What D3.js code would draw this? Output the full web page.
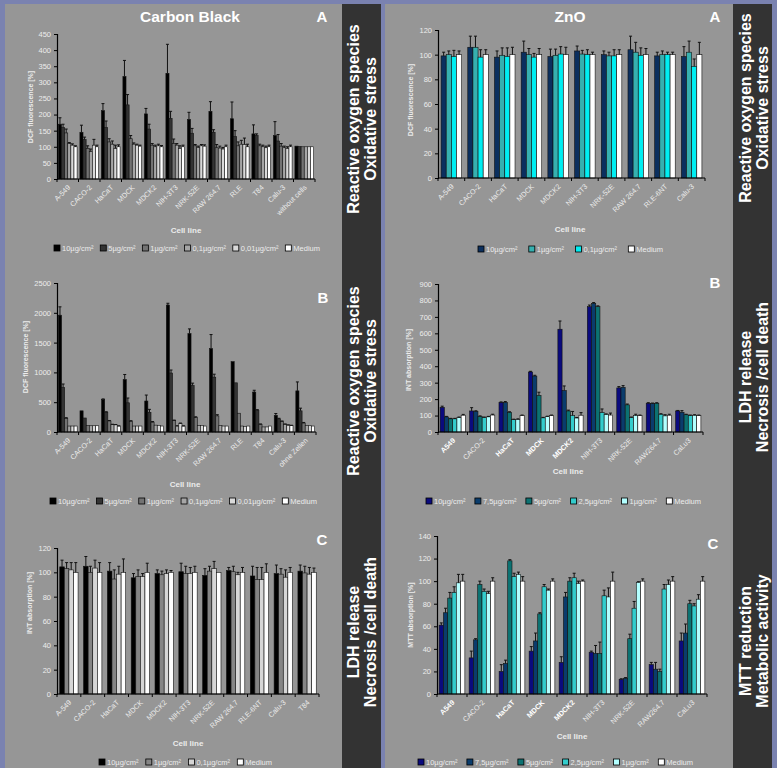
<!DOCTYPE html>
<html><head><meta charset="utf-8">
<script src="https://cdn.jsdelivr.net/npm/d3@7"></script>
<style>
body{margin:0;background:#7a82b0;}
svg{display:block;font-family:"Liberation Sans",Arial,sans-serif;}
</style>
</head><body>
<svg id="c" width="777" height="768"></svg>
<script>
// ---------- DATA ----------
const cbA_categories = ["A-549","CACO-2","HaCaT","MDCK","MDCK2","NIH-3T3","NRK-52E","RAW 264.7","RLE","T84","Calu-3","without cells"];
const cb_series6 = ["10µg/cm²","5µg/cm²","1µg/cm²","0,1µg/cm²","0,01µg/cm²","Medium"];
const cbA_values = [
  [170,160,143,110,105,100],[145,122,95,85,105,100],[212,160,115,108,95,100],[318,230,125,108,105,102],
  [202,155,105,100,103,100],[328,188,110,105,95,100],[185,142,103,98,103,102],[210,145,97,96,93,100],
  [187,132,103,108,107,100],[140,135,103,100,97,100],[135,118,102,97,95,100],[102,101,100,100,100,100]];
const cbA_errors = [
  [20,10,12,3,4,3],[22,8,8,8,18,5],[22,20,10,10,10,6],[50,32,10,4,3,3],
  [17,15,5,5,5,4],[90,22,14,5,8,5],[22,15,4,4,4,4],[30,8,10,6,5,5],
  [52,18,12,12,20,8],[28,5,5,5,5,5],[43,20,8,5,5,5],[0,0,0,0,0,0]];
const cbA_ticks = [0,50,100,150,200,250,300,350,400,450];

const cbB_categories = ["A-549","CACO-2","HaCaT","MDCK","MDCK2","NIH-3T3","NRK-52E","RAW 264.7","RLE","T84","Calu-3","ohne Zellen"];
const cbB_values = [
  [1960,750,230,100,100,100],[355,235,110,105,105,105],[545,330,185,125,120,100],[880,490,180,100,100,100],
  [520,330,165,115,110,100],[2130,990,190,100,140,100],[1650,780,240,110,110,100],[1400,920,270,110,100,100],
  [1180,825,315,100,95,100],[670,360,130,85,85,100],[280,220,175,130,115,110],[690,355,150,110,105,100]];
const cbB_errors = [
  [140,55,10,0,0,0],[0,0,0,0,0,0],[10,10,8,5,5,3],[85,80,10,0,0,0],
  [100,50,10,0,0,0],[30,50,10,5,10,3],[80,40,15,0,0,0],[235,50,20,0,0,0],
  [0,0,0,0,0,0],[30,15,5,0,0,0],[30,10,10,5,5,3],[150,45,10,0,0,0]];
const cbB_ticks = [0,500,1000,1500,2000,2500];

const cbC_categories = ["A-549","CACO-2","HaCaT","MDCK","MDCK2","NIH-3T3","NRK-52E","RAW 264.7","RLE-6NT","Calu-3","T84"];
const cbC_series = ["10µg/cm²","1µg/cm²","0,1µg/cm²","Medium"];
const cbC_values = [
  [104.5,103,102,100],[105,100,103.5,100],[101,94.5,98.5,100],[95.5,96.5,96.5,100],
  [99,98,99,100],[100.5,99,99,100],[97.5,101,103,100],[101.5,100.5,98,100],
  [97,94,94,100],[99,98.5,96,100],[101,99.5,98.5,100]];
const cbC_errors = [
  [5.5,5,6,8],[8,5,6.5,8],[7,7.5,6.5,11],[3.5,5.5,2.5,7.5],
  [3,3,3,1.5],[7,6,5,5],[5.5,4,6,0],[2.5,4.5,2,4],
  [8,10,10,7],[7,4.5,6,4],[5,5.5,5.5,3.5]];
const cbC_ticks = [0,20,40,60,80,100,120];

const znA_categories = ["A-549","CACO-2","HaCaT","MDCK","MDCK2","NIH-3T3","NRK-52E","RAW 264.7","RLE-6NT","Calu-3"];
const znA_series = ["10µg/cm²","1µg/cm²","0,1µg/cm²","Medium"];
const znA_values = [
  [99,100,98.5,100],[106,106,98,100],[98,99.5,98.5,100],[102,100,98,100],[98.5,99.5,100.5,100],
  [103,100.5,100,100],[100,99,99,100],[104,102,99.5,100],[99,100,100,100],[98.5,102,90.5,100]];
const znA_errors = [
  [3,3,5,3],[9,9,6,4],[5,6,7,6],[9,5,3,5],[6,5,6,6],
  [4,3,4,2],[3,3,5,4],[11,8,6,5],[3,3,2,2],[8,9,6,10]];
const znA_ticks = [0,20,40,60,80,100,120];

const zn_categories = ["A549","CACO-2","HaCaT","MDCK","MDCK2","NIH-3T3","NRK-52E","RAW264.7","CaLu3"];
const zn_boldCategories = ["A549","HaCaT","MDCK","MDCK2"];
const zn_series6 = ["10µg/cm²","7,5µg/cm²","5µg/cm²","2,5µg/cm²","1µg/cm²","Medium"];
const znB_values = [
  [150,92,80,80,88,102],[128,126,95,88,92,103],[180,180,120,75,77,100],[365,340,222,86,93,100],
  [625,252,128,100,85,102],[762,782,762,118,107,103],[268,272,165,88,100,100],[175,173,175,108,98,102],
  [128,120,105,100,102,100]];
const znB_errors = [
  [7,3,3,3,3,5],[20,3,3,3,3,5],[3,5,3,3,3,3],[4,5,20,3,3,3],
  [50,28,5,25,3,16],[10,5,5,22,3,12],[8,10,5,3,8,3],[3,3,3,3,7,6],
  [3,10,3,3,3,3]];
const znB_ticks = [0,100,200,300,400,500,600,700,800,900];

const znC_values = [
  [61,72,85,90,98.5,100],[32,48,97,91,89,100],[20,27,118,104,106,100],[38,47,71,95,92,100],
  [28,86,100,103,98,100],[37,36,36,87,86,100],[13,14,49,76,99,100],[26,22,20,93,97,100],
  [47,54,80,78,84,100]];
const znC_errors = [
  [2,4,5,5,7.5,6],[6,1,3,2,2,3],[6,3,1,3,2,4],[4,7,1,2,1,2],
  [5,4,3,4,2,1],[1,7,10,5,8,8],[0.5,0.5,4,6,0.5,2],[2,6,2,4,4,4],
  [7,8,3,2,4,4]];
const znC_ticks = [0,20,40,60,80,100,120,140];

const cb_colors6 = ["#000000","#333333","#737373","#a6a6a6","#d9d9d9","#ffffff"];
const cbC_colors = ["#000000","#858585","#d6d6d6","#ffffff"];
const znA_colors = ["#0b2f5e","#36b0b0","#00eef2","#ffffff"];
const zn_colors6 = ["#0a0a7e","#0a3c6c","#0c7272","#33cccc","#b3ffff","#ffffff"];

// ---------- DRAW ----------
const svg = d3.select("#c");
const PANEL = "#969696", DARK = "#333333", TXT = "#ececec";

svg.append("rect").attr("x",0).attr("y",0).attr("width",777).attr("height",768).attr("fill","#7a82b0");
svg.append("rect").attr("x",5).attr("y",4).attr("width",337).attr("height",764).attr("fill",PANEL);
svg.append("rect").attr("x",342).attr("y",4).attr("width",39).attr("height",764).attr("fill",DARK);
svg.append("rect").attr("x",385).attr("y",4).attr("width",348).attr("height",764).attr("fill",PANEL);
svg.append("rect").attr("x",733).attr("y",4).attr("width",39).attr("height",764).attr("fill",DARK);

function sideText(cx, cy, l1, l2){
  const g = svg.append("g").attr("transform",`translate(${cx},${cy}) rotate(-90)`);
  g.append("text").attr("y",-8.5).attr("text-anchor","middle").attr("dominant-baseline","central")
    .attr("fill","#fff").attr("font-weight","bold").attr("font-size",16).text(l1);
  g.append("text").attr("y",8.5).attr("text-anchor","middle").attr("dominant-baseline","central")
    .attr("fill","#fff").attr("font-weight","bold").attr("font-size",16).text(l2);
}

function panel(c){
  const g = svg.append("g");
  const x = d3.scaleBand().domain(c.categories).range([c.x0,c.x1]).padding(0);
  const inner = d3.scaleBand().domain(d3.range(c.series.length)).range([0,x.bandwidth()]).paddingInner(0).paddingOuter(c.pad||0.7);
  const y = d3.scaleLinear().domain([0,c.ticks[c.ticks.length-1]]).range([c.yBottom,c.yTop]);

  c.categories.forEach((cat,i)=>{
    const gg = g.append("g").attr("transform",`translate(${x(cat)},0)`);
    c.series.forEach((s,j)=>{
      const v = c.values[i][j];
      gg.append("rect").attr("x",inner(j)).attr("y",y(v)).attr("width",inner.bandwidth())
        .attr("height",y(0)-y(v)).attr("fill",c.colors[j]).attr("stroke","#111").attr("stroke-width",0.6);
      const e = c.errors[i][j];
      if(e>0){
        const cx = inner(j)+inner.bandwidth()/2;
        gg.append("line").attr("x1",cx).attr("x2",cx).attr("y1",y(v)).attr("y2",y(v+e)).attr("stroke","#111").attr("stroke-width",1);
        gg.append("line").attr("x1",cx-1.5).attr("x2",cx+1.5).attr("y1",y(v+e)).attr("y2",y(v+e)).attr("stroke","#111").attr("stroke-width",1);
      }
    });
  });

  const ya = g.append("g").attr("transform",`translate(${c.x0},0)`)
    .call(d3.axisLeft(y).tickValues(c.ticks).tickSize(3).tickPadding(3).tickFormat(d3.format("d")));
  ya.select(".domain").attr("stroke","#000").attr("stroke-width",1.2);
  ya.selectAll(".tick line").attr("stroke","#000");
  ya.selectAll("text").attr("fill",TXT).attr("font-size",7.5).attr("font-family","Liberation Sans, Arial, sans-serif");

  const xa = g.append("g").attr("transform",`translate(0,${c.yBottom})`);
  xa.append("line").attr("x1",c.x0).attr("x2",c.x1).attr("y1",0).attr("y2",0).attr("stroke","#000").attr("stroke-width",1.2);
  c.categories.forEach(cat=>{
    xa.append("line").attr("x1",x(cat)+x.bandwidth()).attr("x2",x(cat)+x.bandwidth()).attr("y1",0).attr("y2",3).attr("stroke","#000");
    const bold = c.bold && c.bold.includes(cat);
    xa.append("text").attr("transform",`translate(${x(cat)+x.bandwidth()/2+3},${9}) rotate(-45)`)
      .attr("text-anchor","end").attr("font-size",7.2).attr("fill",bold?"#ffffff":TXT)
      .attr("font-weight",bold?"bold":"normal").text(cat);
  });
  xa.append("line").attr("x1",c.x0).attr("x2",c.x0).attr("y1",0).attr("y2",3).attr("stroke","#000");

  g.append("text").attr("x",c.cellX).attr("y",c.cellY).attr("text-anchor","middle").attr("font-size",8)
    .attr("font-weight","bold").attr("fill",TXT).text("Cell line");
  g.append("text").attr("transform",`translate(${c.yTitleX},${c.yTitleY}) rotate(-90)`).attr("text-anchor","middle")
    .attr("dominant-baseline","central").attr("font-size",7).attr("font-weight","bold").attr("fill",TXT).text(c.yTitle);
  g.append("text").attr("x",c.letterX).attr("y",c.letterY).attr("text-anchor","middle").attr("font-size",15)
    .attr("font-weight","bold").attr("fill","#fff").text(c.letter);
  if(c.title) g.append("text").attr("x",c.titleX).attr("y",c.letterY).attr("text-anchor","middle").attr("font-size",15.5)
    .attr("font-weight","bold").attr("fill","#fff").text(c.title);

  const lg = g.append("g");
  const items = c.series.map((s,j)=>{
    const it = lg.append("g");
    it.append("rect").attr("x",0).attr("y",-3).attr("width",6).attr("height",6).attr("fill",c.colors[j]).attr("stroke","#000").attr("stroke-width",0.8);
    const t = it.append("text").attr("x",8).attr("y",0).attr("dominant-baseline","central").attr("font-size",7.5).attr("fill",TXT).text(s);
    return {it, w: 8 + t.node().getComputedTextLength()};
  });
  const total = d3.sum(items,d=>d.w);
  const gap = (c.legX1 - c.legX0 - total)/(items.length-1);
  let cx = c.legX0;
  items.forEach(d=>{ d.it.attr("transform",`translate(${cx},${c.legY})`); cx += d.w + gap; });
}

panel({categories:cbA_categories, series:cb_series6, values:cbA_values, errors:cbA_errors, colors:cb_colors6, ticks:cbA_ticks,
  x0:57, x1:315, yTop:34, yBottom:179, pad:0.45, cellX:186, cellY:233, yTitle:"DCF fluorescence [%]", yTitleX:30, yTitleY:107,
  letter:"A", letterX:322, letterY:22, title:"Carbon Black", titleX:190, legX0:54, legX1:320, legY:248});

panel({categories:znA_categories, series:znA_series, values:znA_values, errors:znA_errors, colors:znA_colors, ticks:znA_ticks,
  x0:438, x1:705, yTop:30, yBottom:178, pad:0.6, cellX:570, cellY:232, yTitle:"DCF fluorescence [%]", yTitleX:410, yTitleY:100,
  letter:"A", letterX:715, letterY:22, title:"ZnO", titleX:570, legX0:478, legX1:663, legY:249});

panel({categories:cbB_categories, series:cb_series6, values:cbB_values, errors:cbB_errors, colors:cb_colors6, ticks:cbB_ticks,
  x0:57, x1:316, yTop:283, yBottom:432, pad:0.45, cellX:185, cellY:487, yTitle:"DCF fluorescence [%]", yTitleX:25, yTitleY:357,
  letter:"B", letterX:323, letterY:303, legX0:50, legX1:317, legY:501});

panel({categories:zn_categories, bold:zn_boldCategories, series:zn_series6, values:znB_values, errors:znB_errors, colors:zn_colors6, ticks:znB_ticks,
  x0:438, x1:703, yTop:284, yBottom:432, pad:0.5, cellX:568, cellY:474, yTitle:"INT absorption [%]", yTitleX:408, yTitleY:360,
  letter:"B", letterX:715, letterY:288, legX0:426, legX1:701, legY:501});

panel({categories:cbC_categories, series:cbC_series, values:cbC_values, errors:cbC_errors, colors:cbC_colors, ticks:cbC_ticks,
  x0:57, x1:319, yTop:548, yBottom:694, pad:0.6, cellX:188, cellY:746, yTitle:"INT absorption [%]", yTitleX:29, yTitleY:603,
  letter:"C", letterX:322, letterY:545, legX0:99, legX1:272, legY:762});

panel({categories:zn_categories, bold:zn_boldCategories, series:zn_series6, values:znC_values, errors:znC_errors, colors:zn_colors6, ticks:znC_ticks,
  x0:437, x1:707, yTop:536, yBottom:694, pad:0.5, cellX:572, cellY:739, yTitle:"MTT absorption [%]", yTitleX:410, yTitleY:615,
  letter:"C", letterX:713, letterY:549, legX0:418, legX1:693, legY:762});

sideText(361.5,119,"Reactive oxygen species","Oxidative stress");
sideText(361.5,381,"Reactive oxygen species","Oxidative stress");
sideText(361.5,632,"LDH release","Necrosis /cell death");
sideText(753.5,108,"Reactive oxygen species","Oxidative stress");
sideText(753.5,377,"LDH release","Necrosis /cell death");
sideText(753.5,641,"MTT reduction","Metabolic activity");
</script>
</body></html>
